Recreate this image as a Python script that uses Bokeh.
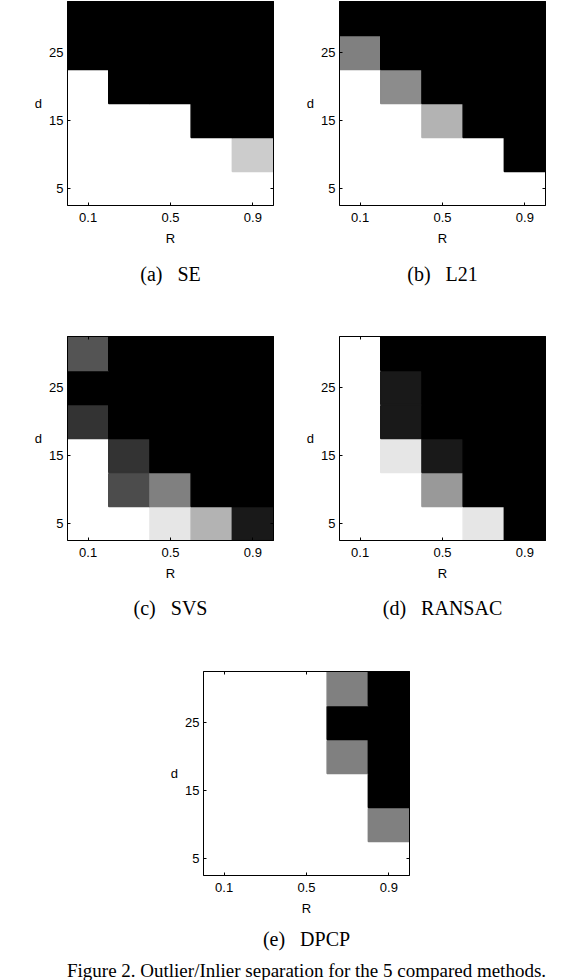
from bokeh.plotting import figure
from bokeh.models import (ColumnDataSource, FixedTicker, LinearAxis, Range1d, Title,
                          CustomJSTickFormatter)
from bokeh.layouts import column, row
from bokeh.transform import linear_cmap
from bokeh.embed import file_html
from bokeh.resources import INLINE

# ---------------- data ----------------
R_values = [0.1, 0.3, 0.5, 0.7, 0.9]
d_values = [5, 10, 15, 20, 25, 30]
R_ticks = [0.1, 0.5, 0.9]
d_ticks = [5, 15, 25]

# fraction of successful outlier/inlier separation (1 = white, 0 = black)
# rows follow d_values (5 -> 30), columns follow R_values (0.1 -> 0.9)
se = [
    [1, 1, 1, 1, 1],
    [1, 1, 1, 1, 0.8],
    [1, 1, 1, 0, 0],
    [1, 0, 0, 0, 0],
    [0, 0, 0, 0, 0],
    [0, 0, 0, 0, 0],
]
l21 = [
    [1, 1, 1, 1, 1],
    [1, 1, 1, 1, 0],
    [1, 1, 0.7, 0, 0],
    [1, 0.55, 0, 0, 0],
    [0.5, 0, 0, 0, 0],
    [0, 0, 0, 0, 0],
]
svs = [
    [1, 1, 0.9, 0.7, 0.1],
    [1, 0.3, 0.5, 0, 0],
    [1, 0.2, 0, 0, 0],
    [0.2, 0, 0, 0, 0],
    [0, 0, 0, 0, 0],
    [0.33, 0, 0, 0, 0],
]
ransac = [
    [1, 1, 1, 0.9, 0],
    [1, 1, 0.6, 0, 0],
    [1, 0.9, 0.1, 0, 0],
    [1, 0.1, 0, 0, 0],
    [1, 0.1, 0, 0, 0],
    [1, 0, 0, 0, 0],
]
dpcp = [
    [1, 1, 1, 1, 1],
    [1, 1, 1, 1, 0.5],
    [1, 1, 1, 1, 0],
    [1, 1, 1, 0.5, 0],
    [1, 1, 1, 0, 0],
    [1, 1, 1, 0.5, 0],
]

captions = ["(a)\u00a0\u00a0\u00a0SE", "(b)\u00a0\u00a0\u00a0L21", "(c)\u00a0\u00a0\u00a0SVS",
            "(d)\u00a0\u00a0\u00a0RANSAC", "(e)\u00a0\u00a0\u00a0DPCP"]
figure_caption = "Figure 2. Outlier/Inlier separation for the 5 compared methods."

# ---------------- styling ----------------
GRAYS = ["#%02x%02x%02x" % (k, k, k) for k in range(256)]
SANS = "Liberation Sans"
SERIF = "Liberation Serif"
FRAME_W, FRAME_H = 206, 204

x_step = R_values[1] - R_values[0]
y_step = d_values[1] - d_values[0]


def style_box_axis(ax):
    ax.major_tick_in = 3
    ax.major_tick_out = 0
    ax.minor_tick_in = 0
    ax.minor_tick_out = 0
    ax.axis_line_color = "black"
    ax.major_tick_line_color = "black"


def style_title(t, size, standoff):
    t.text_font = SERIF
    t.text_font_size = size
    t.text_font_style = "normal"
    t.text_color = "black"
    t.align = "center"
    t.standoff = standoff


def panel(vals, caption, bl, br, bt, bb, cap_standoff, outer_caption=None):
    xs, ys, vs = [], [], []
    for i, dv in enumerate(d_values):
        for j, rv in enumerate(R_values):
            xs.append(rv)
            ys.append(dv)
            vs.append(vals[i][j])
    src = ColumnDataSource(dict(R=xs, d=ys, v=vs))
    p = figure(frame_width=FRAME_W, frame_height=FRAME_H,
               x_range=Range1d(R_values[0] - x_step / 2, R_values[-1] + x_step / 2),
               y_range=Range1d(d_values[0] - y_step / 2, d_values[-1] + y_step / 2),
               output_backend="svg", toolbar_location=None,
               min_border_left=bl, min_border_right=br,
               min_border_top=bt, min_border_bottom=bb,
               title=outer_caption if outer_caption else caption,
               title_location="below")
    cmap = linear_cmap("v", GRAYS, 0, 1)
    p.rect(x="R", y="d", width=x_step, height=y_step, source=src,
           fill_color=cmap, line_color=cmap, line_width=1.4)
    p.grid.visible = False
    p.outline_line_color = "black"
    p.outline_line_width = 1
    p.background_fill_color = "white"
    p.border_fill_color = "white"

    p.xaxis.ticker = FixedTicker(ticks=R_ticks)
    p.yaxis.ticker = FixedTicker(ticks=d_ticks)
    p.xaxis.axis_label = "R"
    p.yaxis.axis_label = "d"
    p.yaxis.axis_label_orientation = "horizontal"
    for ax in p.axis:
        style_box_axis(ax)
        ax.major_label_text_font = SANS
        ax.major_label_text_font_size = "13px"
        ax.major_label_text_color = "black"
        ax.axis_label_text_font = SANS
        ax.axis_label_text_font_size = "13px"
        ax.axis_label_text_font_style = "normal"
        ax.axis_label_text_color = "black"
    p.xaxis.major_label_standoff = 7
    p.xaxis.axis_label_standoff = 6
    p.yaxis.major_label_standoff = 4
    p.yaxis.axis_label_standoff = 4

    top = LinearAxis(ticker=FixedTicker(ticks=R_ticks),
                     formatter=CustomJSTickFormatter(code="return ''"),
                     major_label_standoff=0)
    right = LinearAxis(ticker=FixedTicker(ticks=d_ticks),
                       formatter=CustomJSTickFormatter(code="return ''"),
                       major_label_standoff=0)
    style_box_axis(top)
    style_box_axis(right)
    p.add_layout(top, "above")
    p.add_layout(right, "right")

    if outer_caption:
        # the figure's own title is drawn outermost: use it for the figure caption
        style_title(p.title, "19px", 0)
        inner = Title(text=caption)
        style_title(inner, "20px", cap_standoff)
        p.add_layout(inner, "below")
    else:
        style_title(p.title, "20px", cap_standoff)
    return p


pa = panel(se, captions[0], 67, 8, 1, 111, 25)
pb = panel(l21, captions[1], 58, 29, 1, 111, 25)
pc = panel(svs, captions[2], 67, 8, 20, 111, 22)
pd = panel(ransac, captions[3], 58, 29, 20, 111, 22)
pe = panel(dpcp, captions[4], 203, 165, 20, 105, 15, outer_caption=figure_caption)

layout = column(row(pa, pb), row(pc, pd), pe)

open("out.html", "w").write(file_html(layout, INLINE))
